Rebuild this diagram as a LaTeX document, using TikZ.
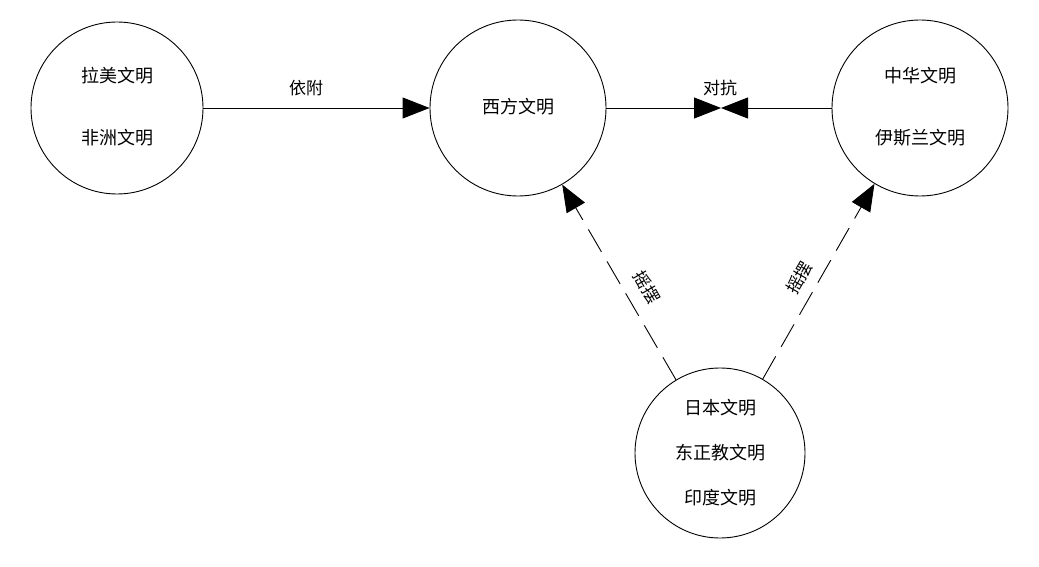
\documentclass[tikz,border=0pt]{standalone}
\usepackage{fontspec}
\newfontfamily\cjk{Noto Sans CJK SC}
\usetikzlibrary{arrows.meta}
\begin{document}
\begin{tikzpicture}[x=1pt,y=1pt,
  civ/.style={circle,draw,line width=0.9pt,inner sep=0pt},
  txt/.style={font=\cjk\fontsize{18}{20}\selectfont,inner sep=0pt},
  lbl/.style={font=\cjk\fontsize{17}{19}\selectfont,inner sep=0pt},
  arr/.style={line width=0.9pt,-{Triangle[length=27pt,width=21pt]}},
  darr/.style={arr,dash pattern=on 26pt off 11pt}]
\useasboundingbox (0,0) rectangle (1039,566);
\node[civ,minimum size=172pt] (L) at (117,458) {};
\node[civ,minimum size=176pt] (M) at (518,458) {};
\node[civ,minimum size=176pt] (R) at (920,458) {};
\node[civ,minimum size=170pt] (B) at (720,113) {};
\node[txt] (l1) at (117,490) {拉美文明};
\node[txt] (l2) at (117,428) {非洲文明};
\node[txt] (m1) at (518,459) {西方文明};
\node[txt] (r1) at (920,490) {中华文明};
\node[txt] (r2) at (920,428) {伊斯兰文明};
\node[txt] (b1) at (720,158) {日本文明};
\node[txt] (b2) at (720,113) {东正教文明};
\node[txt] (b3) at (720,68) {印度文明};
\coordinate (meet) at (721,458);
\draw[arr] (L.east) -- (M.west);
\draw[arr] (M.east) -- (meet);
\draw[arr] (R.west) -- (meet);
\draw[darr] (B.121) -- (M.-60);
\draw[darr] (B.60) -- (R.-121);
\node[lbl] (t1) at (306,478) {依附};
\node[lbl] (t2) at (720,478) {对抗};
\node[lbl,rotate=-60] (t3) at (647,279) {摇摆};
\node[lbl,rotate=60] (t4) at (799,288) {摇摆};
\end{tikzpicture}
\end{document}
